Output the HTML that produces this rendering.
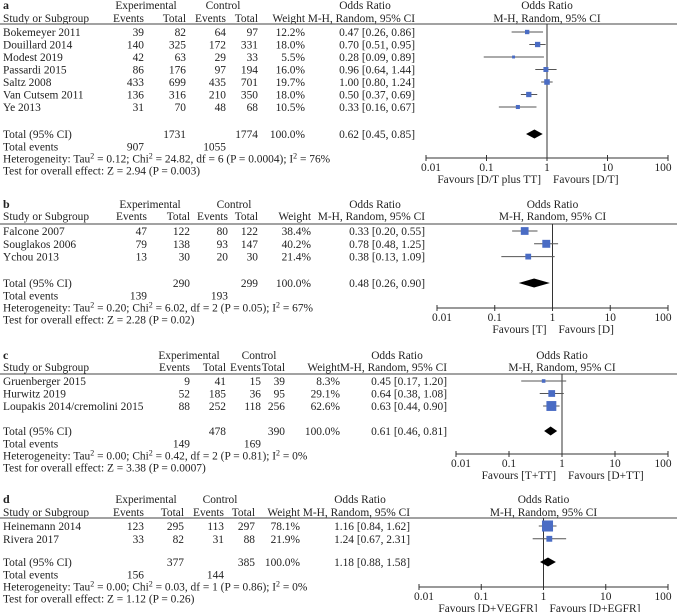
<!DOCTYPE html>
<html><head><meta charset="utf-8"><style>
html,body{margin:0;padding:0;background:#fff;}
svg{display:block;font-family:"Liberation Serif",serif;font-size:11.4px;fill:#222;}
</style></head><body>
<svg id="fig" width="677" height="612" viewBox="0 0 677 612"></svg>
<script>
// ---- Panel a data ----
const aStudies=["Bokemeyer 2011","Douillard 2014","Modest 2019","Passardi 2015","Saltz 2008","Van Cutsem 2011","Ye 2013"];
const aExpEv=[39,140,42,86,433,136,31];
const aExpTot=[82,325,63,176,699,316,70];
const aCtlEv=[64,172,29,97,435,210,48];
const aCtlTot=[97,331,33,194,701,350,68];
const aWeight=[12.2,18.0,5.5,16.0,19.7,18.0,10.5];
const aOR=[0.47,0.70,0.28,0.96,1.00,0.50,0.33];
const aLo=[0.26,0.51,0.09,0.64,0.80,0.37,0.16];
const aHi=[0.86,0.95,0.89,1.44,1.24,0.69,0.67];
const aTotal=[1731,1774,907,1055,0.62,0.45,0.85];
// ---- Panel b data ----
const bStudies=["Falcone 2007","Souglakos 2006","Ychou 2013"];
const bExpEv=[47,79,13];
const bExpTot=[122,138,30];
const bCtlEv=[80,93,20];
const bCtlTot=[122,147,30];
const bWeight=[38.4,40.2,21.4];
const bOR=[0.33,0.78,0.38];
const bLo=[0.20,0.48,0.13];
const bHi=[0.55,1.25,1.09];
const bTotal=[290,299,139,193,0.48,0.26,0.90];
// ---- Panel c data ----
const cStudies=["Gruenberger 2015","Hurwitz 2019","Loupakis 2014/cremolini 2015"];
const cExpEv=[9,52,88];
const cExpTot=[41,185,252];
const cCtlEv=[15,36,118];
const cCtlTot=[39,95,256];
const cWeight=[8.3,29.1,62.6];
const cOR=[0.45,0.64,0.63];
const cLo=[0.17,0.38,0.44];
const cHi=[1.20,1.08,0.90];
const cTotal=[478,390,149,169,0.61,0.46,0.81];
// ---- Panel d data ----
const dStudies=["Heinemann 2014","Rivera 2017"];
const dExpEv=[123,33];
const dExpTot=[295,82];
const dCtlEv=[113,31];
const dCtlTot=[297,88];
const dWeight=[78.1,21.9];
const dOR=[1.16,1.24];
const dLo=[0.84,0.67];
const dHi=[1.62,2.31];
const dTotal=[377,385,156,144,1.18,0.88,1.58];
const tickVals=[0.01,0.1,1,10,100];
const tickLabels=["0.01","0.1","1","10","100"];

const NS="http://www.w3.org/2000/svg";
const svg=document.getElementById('fig');
function mk(tag,attrs,parent){const e=document.createElementNS(NS,tag);for(const k in attrs)e.setAttribute(k,attrs[k]);(parent||svg).appendChild(e);return e;}
function txt(x,y,s,anchor,parent,name,extra){
  const t=mk('text',Object.assign({x:x,y:y+4,'text-anchor':anchor||'start'},extra||{}),parent);
  t.textContent=s;
  
  
  return t;
}
function fmt(v){return v.toFixed(2);}

function panel(cfg){
  const g=mk('g',{});
  
  
  const L=cfg.layout;
  const xs=v=>L.ax0+(Math.log10(v)+2)/4*(L.ax1-L.ax0);
  txt(3,L.h1,cfg.letter,'start',g,'panel-letter',{'font-weight':'bold','font-size':'12px'});
  txt(L.expC,L.h1,'Experimental','middle',g,'experimental-header');
  txt(L.ctlC,L.h1,'Control','middle',g,'control-header');
  txt(L.orR-50,L.h1,'Odds Ratio','middle',g,'odds-ratio-header');
  txt(xs(1),L.h1,'Odds Ratio','middle',g,'plot-odds-ratio-header');
  txt(3,L.h2,'Study or Subgroup','start',g,'study-column-header');
  txt(L.c[0],L.h2,'Events','end',g,'exp-events-header');
  txt(L.c[1],L.h2,'Total','end',g,'exp-total-header');
  txt(L.c[2],L.h2,'Events','end',g,'ctl-events-header');
  txt(L.c[3],L.h2,'Total','end',g,'ctl-total-header');
  txt(L.c[4],L.h2,'Weight','end',g,'weight-header');
  txt(L.orR,L.h2,'M-H, Random, 95% CI','end',g,'method-header');
  txt(xs(1),L.h2,'M-H, Random, 95% CI','middle',g,'plot-method-header');
  const rule=mk('line',{x1:0,x2:677,y1:L.rule,y2:L.rule,stroke:'#444','stroke-width':1},g);
  
  
  const vl=mk('line',{x1:xs(1),x2:xs(1),y1:L.rule,y2:L.axis,stroke:'#333','stroke-width':1},g);
  
  
  cfg.studies.forEach((s,i)=>{
    const y=L.r0+i*L.step;
    txt(3,y,s,'start',g,'study-name');
    txt(L.c[0],y,String(cfg.ev[i]),'end',g,'exp-events');
    txt(L.c[1],y,String(cfg.tot[i]),'end',g,'exp-total');
    txt(L.c[2],y,String(cfg.cev[i]),'end',g,'ctl-events');
    txt(L.c[3],y,String(cfg.ctot[i]),'end',g,'ctl-total');
    txt(L.c[4],y,cfg.w[i].toFixed(1)+'%','end',g,'study-weight');
    txt(L.orR,y,fmt(cfg.or[i])+' ['+fmt(cfg.lo[i])+', '+fmt(cfg.hi[i])+']','end',g,'study-odds-ratio');
    const ci=mk('line',{x1:xs(cfg.lo[i]),x2:xs(cfg.hi[i]),y1:y,y2:y,stroke:'#555','stroke-width':1},g);
    
    
    const sz=1.25*Math.sqrt(cfg.w[i]);
    const sq=mk('rect',{x:xs(cfg.or[i])-sz/2,y:y-sz/2,width:sz,height:sz,fill:'#4a6cc4'},g);
    
    
  });
  const T=cfg.total;
  txt(3,L.tot,'Total (95% CI)','start',g,'total-label');
  txt(L.c[1],L.tot,String(T[0]),'end',g,'exp-total-sum');
  txt(L.c[3],L.tot,String(T[1]),'end',g,'ctl-total-sum');
  txt(L.c[4],L.tot,'100.0%','end',g,'total-weight');
  txt(L.orR,L.tot,fmt(T[4])+' ['+fmt(T[5])+', '+fmt(T[6])+']','end',g,'pooled-odds-ratio');
  const dm=mk('polygon',{points:[xs(T[5])+','+L.tot, xs(T[4])+','+(L.tot-4.5), xs(T[6])+','+L.tot, xs(T[4])+','+(L.tot+4.5)].join(' '),fill:'#000'},g);
  
  
  const ev=L.tot+12.5;
  txt(3,ev,'Total events','start',g,'total-events-label');
  txt(L.c[0],ev,String(T[2]),'end',g,'exp-total-events');
  txt(L.c[2],ev,String(T[3]),'end',g,'ctl-total-events');
  const h=txt(3,L.tot+24.5,'','start',g,'heterogeneity-text');
  h.innerHTML=cfg.het;
  txt(3,L.tot+36.5,cfg.test,'start',g,'overall-effect-text');
  const ax=mk('line',{x1:L.ax0,x2:L.ax1,y1:L.axis,y2:L.axis,stroke:'#333','stroke-width':1},g);
  
  
  tickVals.forEach((v,i)=>{
    const tk=mk('line',{x1:xs(v),x2:xs(v),y1:L.axis-3,y2:L.axis+3,stroke:'#333','stroke-width':1},g);
    
    
    txt(xs(v)+(i==0?5:i==4?-5:0),L.axis+9,tickLabels[i],'middle',g,'x-tick-label');
  });
  txt(xs(1)-6,L.axis+21,cfg.favL,'end',g,'favours-left-label');
  txt(xs(1)+6,L.axis+21,cfg.favR,'start',g,'favours-right-label');
}
const SUP=s=>'<tspan dy="-4" font-size="8">'+s+'</tspan><tspan dy="4">';
function het(tau,chi,df,p,i2){return 'Heterogeneity: Tau'+SUP('2')+' = '+tau+'; Chi'+SUP('2')+' = '+chi+', df = '+df+' (P = '+p+'); I'+SUP('2')+' = '+i2+'</tspan></tspan></tspan>';}

panel({letter:'a',studies:aStudies,ev:aExpEv,tot:aExpTot,cev:aCtlEv,ctot:aCtlTot,w:aWeight,or:aOR,lo:aLo,hi:aHi,total:aTotal,
 het:het('0.12','24.82',6,'0.0004','76%'),test:'Test for overall effect: Z = 2.94 (P = 0.003)',favL:'Favours [D/T plus TT]',favR:'Favours [D/T]',
 layout:{h1:5,h2:18,rule:24,r0:32,step:12.5,tot:134,axis:158,ax0:426,ax1:668,expC:146,ctlC:223,orR:415,c:[144,186,226,258,305]}});
panel({letter:'b',studies:bStudies,ev:bExpEv,tot:bExpTot,cev:bCtlEv,ctot:bCtlTot,w:bWeight,or:bOR,lo:bLo,hi:bHi,total:bTotal,
 het:het('0.20','6.02',2,'0.05','67%'),test:'Test for overall effect: Z = 2.28 (P = 0.02)',favL:'Favours [T]',favR:'Favours [D]',
 layout:{h1:204,h2:216,rule:224,r0:231,step:12.8,tot:283,axis:308,ax0:437,ax1:668,expC:150,ctlC:234,orR:425,c:[147,190,228,258,311]}});
panel({letter:'c',studies:cStudies,ev:cExpEv,tot:cExpTot,cev:cCtlEv,ctot:cCtlTot,w:cWeight,or:cOR,lo:cLo,hi:cHi,total:cTotal,
 het:het('0.00','0.42',2,'0.81','0%'),test:'Test for overall effect: Z = 3.38 (P = 0.0007)',favL:'Favours [T+TT]',favR:'Favours [D+TT]',
 layout:{h1:355,h2:367,rule:374,r0:381,step:12.5,tot:431,axis:454,ax0:456,ax1:668,expC:189,ctlC:259,orR:447,c:[190,226,261,285,340]}});
panel({letter:'d',studies:dStudies,ev:dExpEv,tot:dExpTot,cev:dCtlEv,ctot:dCtlTot,w:dWeight,or:dOR,lo:dLo,hi:dHi,total:dTotal,
 het:het('0.00','0.03',1,'0.86','0%'),test:'Test for overall effect: Z = 1.12 (P = 0.26)',favL:'Favours [D+VEGFR]',favR:'Favours [D+EGFR]',
 layout:{h1:499,h2:512,rule:518,r0:526,step:12.8,tot:562,axis:587,ax0:419,ax1:668,expC:146,ctlC:220,orR:410,c:[144,184,224,255,300]}});
</script>
</body></html>
